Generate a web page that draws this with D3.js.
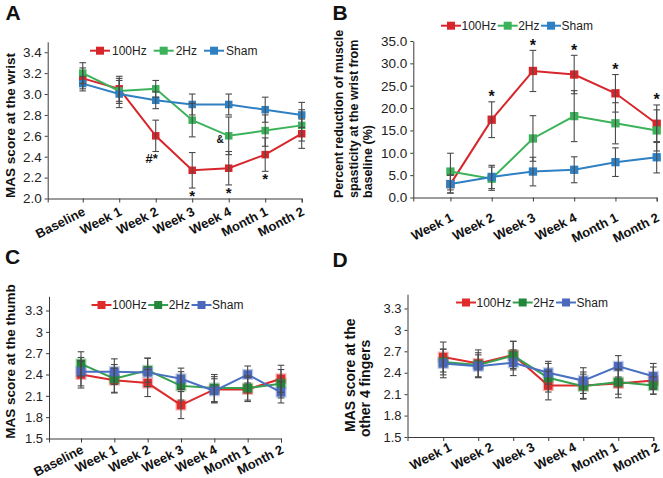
<!DOCTYPE html>
<html><head><meta charset="utf-8">
<script src="https://cdn.jsdelivr.net/npm/d3@7"></script>
<style>
body{margin:0;background:#fff}
svg{display:block}
text{font-family:"Liberation Sans",Arial,Helvetica,sans-serif}
</style>
</head><body>
<svg id="chart" width="663" height="478"></svg>
<script>
// ---------------- DATA ----------------
const seriesNames = ["100Hz", "2Hz", "Sham"];

// Panel A: MAS score at the wrist
const categoriesA = ["Baseline", "Week 1", "Week 2", "Week 3", "Week 4", "Month 1", "Month 2"];
const wrist100Hz    = [3.15, 3.05, 2.60, 2.27, 2.29, 2.42, 2.62];
const wrist100HzErr = [0.10, 0.12, 0.15, 0.17, 0.16, 0.16, 0.14];
const wrist2Hz      = [3.20, 3.03, 3.05, 2.75, 2.60, 2.65, 2.70];
const wrist2HzErr   = [0.10, 0.12, 0.08, 0.16, 0.18, 0.15, 0.15];
const wristSham     = [3.10, 3.00, 2.94, 2.90, 2.90, 2.85, 2.80];
const wristShamErr  = [0.07, 0.13, 0.08, 0.10, 0.10, 0.12, 0.12];
const ticksA = [2.0, 2.2, 2.4, 2.6, 2.8, 3.0, 3.2, 3.4];
const marksA = [ // significance marks below the 100Hz error bar, "&" beside 2Hz
  {cat: "Week 2", text: "#*", series: 0, where: "below"},
  {cat: "Week 3", text: "*", series: 0, where: "below"},
  {cat: "Week 4", text: "*", series: 0, where: "below"},
  {cat: "Month 1", text: "*", series: 0, where: "below"},
  {cat: "Week 4", text: "&", series: 1, where: "left"}
];

// Panel B: percent reduction at the wrist
const categoriesB = ["Week 1", "Week 2", "Week 3", "Week 4", "Month 1", "Month 2"];
const reduction100Hz    = [3.0, 17.4, 28.3, 27.5, 23.3, 16.5];
const reduction100HzErr = [2.0, 4.0, 4.6, 4.3, 4.2, 4.2];
const reduction2Hz      = [5.8, 4.2, 13.2, 18.2, 16.6, 15.0];
const reduction2HzErr   = [4.1, 2.6, 5.1, 5.7, 4.6, 4.6];
const reductionSham     = [3.0, 4.6, 5.8, 6.2, 7.9, 9.0];
const reductionShamErr  = [2.0, 2.6, 3.2, 2.9, 3.2, 3.5];
const ticksB = [0, 5, 10, 15, 20, 25, 30, 35];
const marksB = [
  {cat: "Week 2", text: "*", series: 0, where: "above"},
  {cat: "Week 3", text: "*", series: 0, where: "above"},
  {cat: "Week 4", text: "*", series: 0, where: "above"},
  {cat: "Month 1", text: "*", series: 0, where: "above"},
  {cat: "Month 2", text: "*", series: 0, where: "above"}
];

// Panel C: MAS score at the thumb
const categoriesC = ["Baseline", "Week 1", "Week 2", "Week 3", "Week 4", "Month 1", "Month 2"];
const thumb100Hz    = [2.40, 2.32, 2.28, 1.97, 2.19, 2.19, 2.34];
const thumb100HzErr = [0.19, 0.17, 0.19, 0.19, 0.18, 0.17, 0.19];
const thumb2Hz      = [2.55, 2.34, 2.46, 2.24, 2.21, 2.21, 2.27];
const thumb2HzErr   = [0.17, 0.20, 0.17, 0.20, 0.19, 0.17, 0.20];
const thumbSham     = [2.44, 2.44, 2.43, 2.34, 2.17, 2.40, 2.15];
const thumbShamErr  = [0.20, 0.18, 0.20, 0.15, 0.17, 0.12, 0.15];
const ticksCD = [1.5, 1.8, 2.1, 2.4, 2.7, 3, 3.3];

// Panel D: MAS score at the other 4 fingers (7 time points, 6 axis labels)
const labelsD = ["Week 1", "Week 2", "Week 3", "Week 4", "Month 1", "Month 2"];
const fingers100Hz    = [2.62, 2.53, 2.65, 2.22, 2.22, 2.25, 2.29];
const fingers100HzErr = [0.21, 0.19, 0.19, 0.20, 0.19, 0.20, 0.19];
const fingers2Hz      = [2.55, 2.51, 2.64, 2.33, 2.21, 2.27, 2.22];
const fingers2HzErr   = [0.18, 0.17, 0.20, 0.20, 0.17, 0.17, 0.12];
const fingersSham     = [2.53, 2.49, 2.54, 2.40, 2.29, 2.49, 2.35];
const fingersShamErr  = [0.20, 0.16, 0.18, 0.16, 0.18, 0.15, 0.18];

// ---------------- DRAWING ----------------
const svg = d3.select("#chart");
const colorsAB = ["#d7262b", "#3cb35a", "#2f80c3"];
const colorsCDline = ["#dd2a2a", "#35a04f", "#4a70c2"];
const colorsCDmark = ["#e02b2b", "#23873a", "#4b68bd"];
const axisColor = "#3a3a3a";
const errColor = "#4a4a4a";

function drawPanel(cfg) {
  const g = svg.append("g");
  const n = cfg.series[0].values.length;
  const x = d3.scaleLinear().domain([cfg.xStart, n - 1]).range([cfg.left, cfg.right]);
  const y = d3.scaleLinear().domain(cfg.yDomain).range([cfg.bottom, cfg.top]);

  // y axis
  const ya = g.append("g").attr("transform", `translate(${cfg.left},0)`)
    .call(d3.axisLeft(y).tickValues(cfg.ticks).tickSize(3).tickSizeOuter(0)
      .tickPadding(3).tickFormat(cfg.fmt));
  ya.selectAll("text").attr("font-size", cfg.tickFont).attr("fill", "#222")
    .style("font-family", '"Liberation Sans",Arial,sans-serif');
  ya.selectAll("path,line").attr("stroke", axisColor);

  // x axis
  const xa = g.append("g").attr("transform", `translate(0,${cfg.bottom})`)
    .call(d3.axisBottom(x).tickValues(d3.range(n)).tickSize(4).tickSizeOuter(4).tickFormat(""));
  xa.selectAll("path,line").attr("stroke", axisColor);

  // x labels (rotated)
  const labelPos = cfg.labelScale ? cfg.labelScale : (d, i) => x(i);
  g.selectAll(".xl").data(cfg.labels).enter().append("text")
    .attr("transform", (d, i) => `translate(${labelPos(d, i) + 3.5},${cfg.bottom + cfg.labelDy}) rotate(-27)`)
    .attr("text-anchor", "end").attr("font-weight", "bold").attr("font-size", 13)
    .attr("fill", "#111").text(d => d);

  const line = d3.line().x((d, i) => x(i)).y(d => y(d));
  cfg.series.forEach((s, si) => {
    g.append("path").datum(s.values).attr("d", line).attr("fill", "none")
      .attr("stroke", cfg.lineColors[si]).attr("stroke-width", 2);
    g.selectAll(null).data(s.values).enter().append("rect")
      .attr("x", (d, i) => x(i) - cfg.ms / 2).attr("y", d => y(d) - cfg.ms / 2)
      .attr("width", cfg.ms).attr("height", cfg.ms)
      .attr("fill", cfg.markColors[si])
      .attr("stroke", cfg.glow ? cfg.markColors[si] : "none")
      .attr("stroke-opacity", 0.35).attr("stroke-width", cfg.glow ? 2.5 : 0);
  });
  // error bars
  cfg.series.forEach((s, si) => {
    s.values.forEach((v, i) => {
      const e = s.err[i], cx = x(i);
      const y1 = y(v + e), y2 = y(v - e);
      g.append("line").attr("x1", cx).attr("x2", cx).attr("y1", y1).attr("y2", y2)
        .attr("stroke", errColor).attr("stroke-width", 1.1);
      [y1, y2].forEach(yy => g.append("line").attr("x1", cx - 3.3).attr("x2", cx + 3.3)
        .attr("y1", yy).attr("y2", yy).attr("stroke", errColor).attr("stroke-width", 1.1));
    });
  });

  // significance marks
  (cfg.marks || []).forEach(m => {
    const i = cfg.categories.indexOf(m.cat);
    const s = cfg.series[m.series];
    const v = s.values[i], e = s.err[i];
    const t = g.append("text").attr("font-weight", "bold").attr("fill", "#111").text(m.text);
    if (m.where === "below") {
      const fs = m.text === "*" ? 15 : 13;
      t.attr("x", x(i) - (m.text === "*" ? 0 : 4)).attr("y", y(v - e) + 2 + fs * 0.72)
        .attr("text-anchor", "middle").attr("font-size", fs);
    } else if (m.where === "above") {
      const fs = 16;
      t.attr("x", x(i)).attr("y", y(v + e) + 0.5)
        .attr("text-anchor", "middle").attr("font-size", fs);
    } else {
      t.attr("x", x(i) - 5).attr("y", y(v) + 7).attr("text-anchor", "end").attr("font-size", 10);
    }
  });

  // legend
  let lx = cfg.legend.x;
  const ly = cfg.legend.y;
  seriesNames.forEach((name, si) => {
    g.append("line").attr("x1", lx).attr("x2", lx + 20).attr("y1", ly).attr("y2", ly)
      .attr("stroke", cfg.lineColors[si]).attr("stroke-width", 2);
    g.append("rect").attr("x", lx + 10 - 4).attr("y", ly - 4).attr("width", 8).attr("height", 8)
      .attr("fill", cfg.markColors[si]);
    const t = g.append("text").attr("x", lx + 20 + cfg.legend.pad).attr("y", ly + 4.3)
      .attr("font-size", 12).attr("fill", "#222").text(name);
    lx = lx + 20 + cfg.legend.pad + t.node().getComputedTextLength() + cfg.legend.gap;
  });

  // axis title
  cfg.title.lines.forEach((ln, j) => {
    g.append("text")
      .attr("transform", `translate(${cfg.title.xs[j]},${cfg.title.ys[j]}) rotate(-90)`)
      .attr("text-anchor", cfg.title.anchor).attr("font-weight", "bold")
      .attr("font-size", cfg.title.size).attr("fill", "#111").text(ln);
  });
  // panel letter
  g.append("text").attr("x", cfg.letter.x).attr("y", cfg.letter.y)
    .attr("font-weight", "bold").attr("font-size", 21).attr("fill", "#111").text(cfg.letter.t);
}

// Panel A
drawPanel({
  categories: categoriesA, labels: categoriesA,
  series: [
    {values: wrist100Hz, err: wrist100HzErr},
    {values: wrist2Hz, err: wrist2HzErr},
    {values: wristSham, err: wristShamErr}
  ],
  xStart: -0.96, left: 47.7, right: 301.7,
  yDomain: [2.0, 3.5], bottom: 198.5, top: 41.8,
  ticks: ticksA, fmt: d3.format(".1f"), tickFont: 13.5, labelDy: 16,
  lineColors: colorsAB, markColors: colorsAB, ms: 7.5, glow: false,
  marks: marksA,
  legend: {x: 90, y: 50.7, pad: 2, gap: 7},
  title: {lines: ["MAS score at the wrist"], xs: [15], ys: [125.5], anchor: "middle", size: 13.5},
  letter: {x: 5.5, y: 19.5, t: "A"}
});

// Panel B
drawPanel({
  categories: categoriesB, labels: categoriesB,
  series: [
    {values: reduction100Hz, err: reduction100HzErr},
    {values: reduction2Hz, err: reduction2HzErr},
    {values: reductionSham, err: reductionShamErr}
  ],
  xStart: -0.9, left: 413.3, right: 656.7,
  yDomain: [0, 35], bottom: 197.5, top: 41,
  ticks: ticksB, fmt: d3.format(".1f"), tickFont: 13.5, labelDy: 23,
  lineColors: colorsAB, markColors: colorsAB, ms: 8.3, glow: false,
  marks: marksB,
  legend: {x: 441, y: 25.7, pad: 0.5, gap: 1.5},
  title: {lines: ["Percent reduction of muscle", "spasticity at the wrist from", "baseline (%)"],
          xs: [343, 357.5, 372], ys: [198, 198, 198], anchor: "start", size: 12.5},
  letter: {x: 332.5, y: 19.5, t: "B"}
});

// Panel C
drawPanel({
  categories: categoriesC, labels: categoriesC,
  series: [
    {values: thumb100Hz, err: thumb100HzErr},
    {values: thumb2Hz, err: thumb2HzErr},
    {values: thumbSham, err: thumbShamErr}
  ],
  xStart: -0.96, left: 49, right: 281,
  yDomain: [1.5, 3.5], bottom: 438.5, top: 296.3,
  ticks: ticksCD, fmt: d => String(d), tickFont: 13, labelDy: 14,
  lineColors: colorsCDline, markColors: colorsCDmark, ms: 8.5, glow: true,
  legend: {x: 91.5, y: 305, pad: 0.5, gap: 1.5},
  title: {lines: ["MAS score at the thumb"], xs: [15], ys: [361.5], anchor: "middle", size: 13.5},
  letter: {x: 5, y: 264, t: "C"}
});

// Panel D
const labelScaleD = d3.scalePoint().domain(labelsD).range([449, 657]);
drawPanel({
  categories: labelsD, labels: labelsD, labelScale: d => labelScaleD(d),
  series: [
    {values: fingers100Hz, err: fingers100HzErr},
    {values: fingers2Hz, err: fingers2HzErr},
    {values: fingersSham, err: fingersShamErr}
  ],
  xStart: -1.02, left: 407.5, right: 653.3,
  yDomain: [1.5, 3.5], bottom: 437, top: 294.2,
  ticks: ticksCD, fmt: d => String(d), tickFont: 13, labelDy: 13,
  lineColors: colorsCDline, markColors: colorsCDmark, ms: 8.5, glow: true,
  legend: {x: 456, y: 302.5, pad: 0.5, gap: 1.5},
  title: {lines: ["MAS score at the", "other 4 fingers"], xs: [355, 370], ys: [432, 437], anchor: "start", size: 14},
  letter: {x: 332.5, y: 267, t: "D"}
});
</script>
</body></html>
